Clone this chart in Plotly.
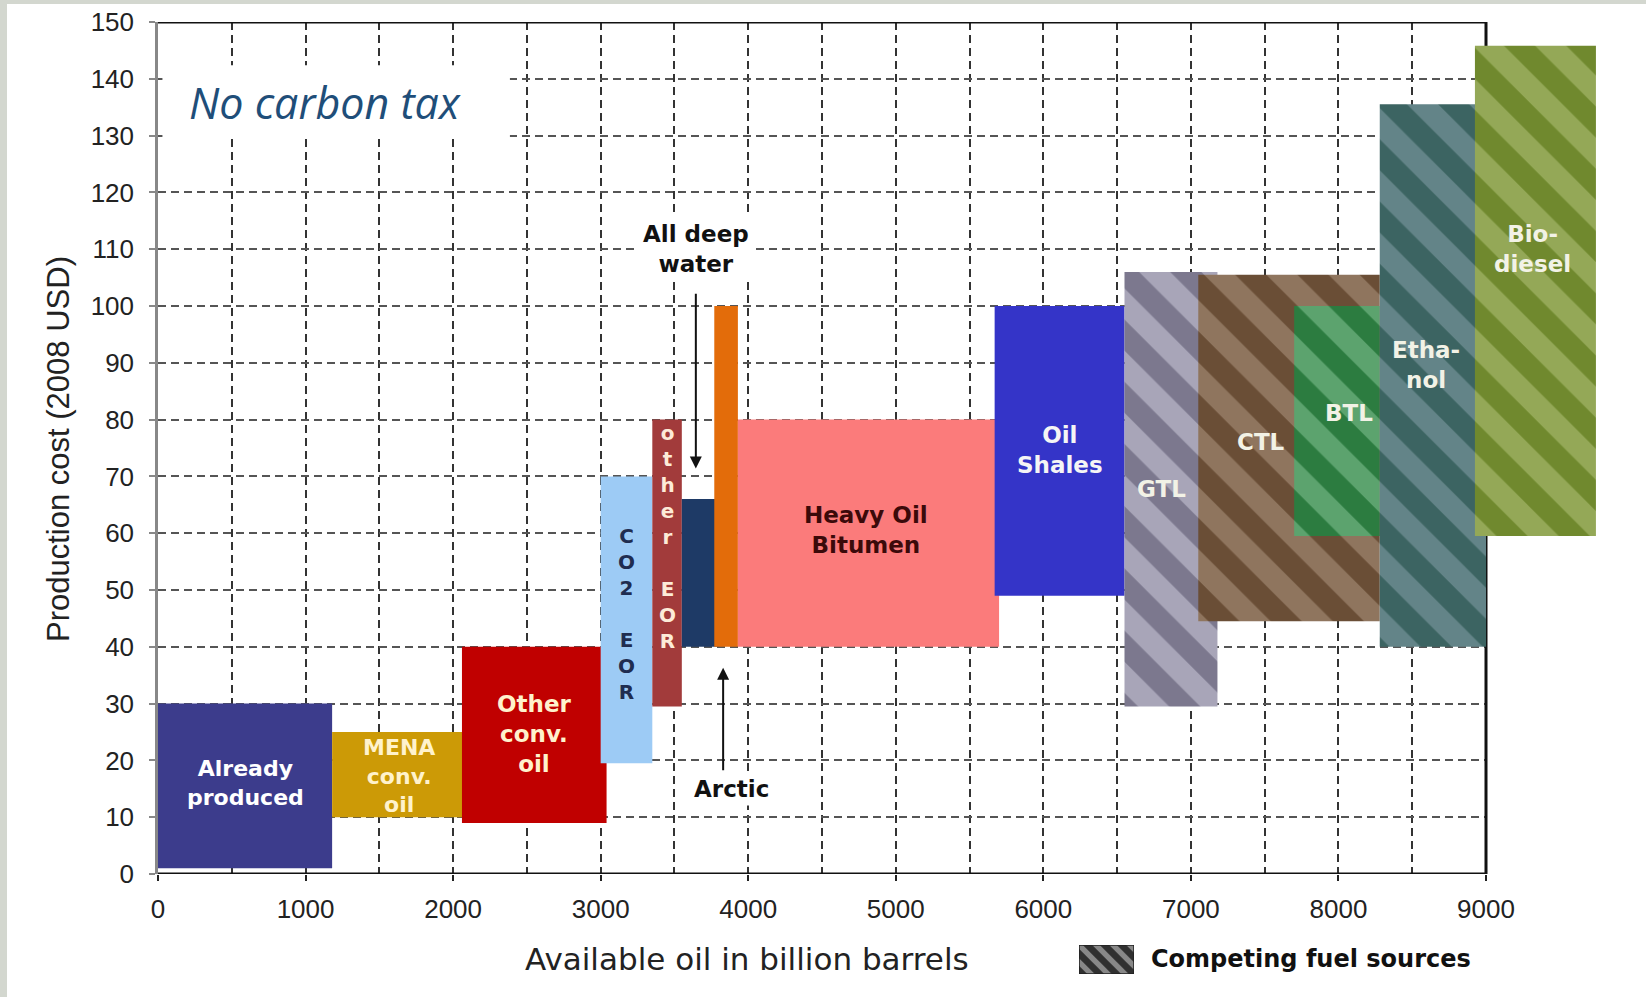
import plotly.graph_objects as go

# ---------------- data ----------------
sources = ["Already produced", "MENA conv. oil", "Other conv. oil", "CO2 EOR",
           "other EOR", "All deep water", "Arctic", "Heavy Oil Bitumen",
           "Oil Shales", "GTL", "CTL", "BTL", "Ethanol", "Biodiesel"]
x_start = [0, 1180, 2060, 3000, 3350, 3550, 3770, 3930, 5670, 6550, 7050, 7700, 8280, 8925]
x_end = [1180, 2080, 3040, 3350, 3550, 3800, 3930, 5700, 6550, 7180, 8280, 8280, 9000, 9745]
cost_low = [1, 10, 9, 19.5, 29.5, 40, 40, 40, 49, 29.5, 44.5, 59.5, 40, 59.5]
cost_high = [30, 25, 40, 70, 80, 66, 100, 80, 100, 106, 105.5, 100, 135.5, 145.8]
competing = [False, False, False, False, False, False, False, False, False,
             True, True, True, True, True]

x_ticks = [0, 1000, 2000, 3000, 4000, 5000, 6000, 7000, 8000, 9000]
x_minor = [500, 1500, 2500, 3500, 4500, 5500, 6500, 7500, 8500]
y_ticks = [0, 10, 20, 30, 40, 50, 60, 70, 80, 90, 100, 110, 120, 130, 140, 150]

# ---------------- styles ----------------
solid_colors = {
    "Already produced": "#3C3C8C", "MENA conv. oil": "#CC9A06",
    "Other conv. oil": "#C00000", "CO2 EOR": "#9DCBF5", "other EOR": "#A23B3B",
    "All deep water": "#1E3A66", "Arctic": "#E36C0A",
    "Heavy Oil Bitumen": "#FB7B7B", "Oil Shales": "#3434C8",
}
pattern_colors = {  # (background, stripes)
    "GTL": ("#7C788E", "#D4D2E2"), "CTL": ("#6A4E36", "#B49C86"),
    "BTL": ("#2C7C40", "#8CCA9C"), "Ethanol": ("#3C6462", "#8AA4AE"),
    "Biodiesel": ("#70892E", "#B8C880"),
}
# label text, x, y, colour, size
labels = {
    "Already produced": ("Already<br>produced", 590, 16, "#FFFFFF", 22),
    "MENA conv. oil": ("MENA<br>conv.<br>oil", 1630, 17.3, "#FFF2CC", 22),
    "Other conv. oil": ("Other<br>conv.<br>oil", 2550, 24.6, "#FFF2CC", 23),
    "CO2 EOR": ("C<br>O<br>2<br> <br>E<br>O<br>R", 3178, 45.7, "#1F2D50", 20),
    "other EOR": ("o<br>t<br>h<br>e<br>r<br> <br>E<br>O<br>R", 3450, 59.4, "#FDEBD8", 20),
    "Heavy Oil Bitumen": ("Heavy Oil<br>Bitumen", 4795, 60.5, "#3B0A0A", 23),
    "Oil Shales": ("Oil<br>Shales", 6110, 74.6, "#F5F5F5", 23),
    "GTL": ("GTL", 6800, 67.7, "#F2F2E6", 23),
    "CTL": ("CTL", 7472, 76, "#F2F2E6", 23),
    "BTL": ("BTL", 8070, 81.2, "#F2F2E6", 23),
    "Ethanol": ("Etha-<br>nol", 8594, 89.7, "#F2F2E6", 23),
    "Biodiesel": ("Bio-<br>diesel", 9313, 110, "#F2F2E6", 23),
}

W, H = 1646, 997
L, T = 158, 22
frame_right, plot_bottom = 1486, 874      # pixel position of x=9000 and y=0
X_FRAME = 9000                            # right edge of the drawn frame
X_MAX = 9800                              # axis extends so the last block fits
paper_w, paper_h = W - L, H - T
plot_right = L + (frame_right - L) * X_MAX / X_FRAME


def px_x(p):
    return (p - L) / paper_w


def px_y(p):
    return (H - p) / paper_h


fig = go.Figure()

for name, x0, x1, lo, hi, comp in zip(sources, x_start, x_end, cost_low, cost_high, competing):
    if comp:
        bg, fg = pattern_colors[name]
        marker = dict(color=bg, line=dict(width=0),
                      pattern=dict(shape="\\", bgcolor=bg, fgcolor=fg, size=44,
                                   solidity=0.5, fgopacity=0.5, fillmode="overlay"))
    else:
        marker = dict(color=solid_colors[name], line=dict(width=0))
    fig.add_trace(go.Bar(
        x=[(x0 + x1) / 2], y=[hi - lo], base=[lo], width=[x1 - x0],
        marker=marker, name=name, showlegend=False,
        xaxis="x", yaxis="y", hoverinfo="name"))

# legend swatch for "Competing fuel sources"
fig.add_trace(go.Bar(
    x=[0], y=[1], width=[1], xaxis="x2", yaxis="y2", showlegend=False,
    marker=dict(color="#303030", line=dict(color="#202020", width=1.5),
                pattern=dict(shape="\\", bgcolor="#303030", fgcolor="#E0E0E0",
                             size=12, solidity=0.45, fillmode="overlay")),
    hoverinfo="skip"))

vgrid = dict(gridcolor="#333333", gridwidth=1.5, griddash="8px,5px")
hgrid = dict(gridcolor="#555555", gridwidth=1.5, griddash="8px,5px")

fig.update_layout(
    width=W, height=H,
    margin=dict(l=L, r=0, t=T, b=0, autoexpand=False),
    paper_bgcolor="white", plot_bgcolor="white",
    barmode="overlay", showlegend=False,
    font=dict(family="Liberation Sans, Arial, sans-serif", color="#222222"),
    xaxis=dict(
        domain=[0, px_x(plot_right)], range=[0, X_MAX], automargin=False,
        tickvals=x_ticks, ticktext=[str(v) for v in x_ticks],
        tickfont=dict(size=26, family="Liberation Sans, Arial", color="#222222"),
        ticks="outside", ticklen=6, tickcolor="#222222", tickwidth=1.5,
        ticklabelstandoff=6,
        showgrid=True, **vgrid,
        minor=dict(tickvals=x_minor, showgrid=True, **vgrid),
        showline=False, zeroline=False,
    ),
    yaxis=dict(
        domain=[px_y(plot_bottom), 1], range=[0, 150], automargin=False,
        tickvals=y_ticks, ticktext=[str(v) for v in y_ticks],
        tickfont=dict(size=26, family="Liberation Sans, Arial", color="#222222"),
        ticks="outside", ticklen=6, tickcolor="#888888", tickwidth=1.5,
        ticklabelstandoff=10,
        showgrid=True, **hgrid,
        showline=True, linecolor="#888888", linewidth=2.5, mirror=False,
        zeroline=False,
    ),
    xaxis2=dict(domain=[px_x(1079), px_x(1134)], range=[-0.5, 0.5], anchor="y2",
                automargin=False, ticks="",
                showgrid=False, zeroline=False, showticklabels=False, showline=False),
    yaxis2=dict(domain=[px_y(974), px_y(945)], range=[0, 1], anchor="x2",
                automargin=False, ticks="",
                showgrid=False, zeroline=False, showticklabels=False, showline=False),
)

shapes = [
    # grey frame of the slide (top and left strips)
    dict(type="rect", xref="paper", yref="paper", x0=px_x(0), x1=px_x(W),
         y0=px_y(4), y1=px_y(0), fillcolor="#D3D7CF", line=dict(width=0), layer="below"),
    dict(type="rect", xref="paper", yref="paper", x0=px_x(0), x1=px_x(7),
         y0=px_y(H), y1=px_y(0), fillcolor="#D3D7CF", line=dict(width=0), layer="below"),
    # hide the grid outside the frame
    dict(type="rect", xref="x", yref="y", x0=X_FRAME, x1=X_MAX, y0=0, y1=150,
         fillcolor="white", line=dict(width=0), layer="between"),
    # white box behind the scenario title
    dict(type="rect", xref="x", yref="y", x0=30, x1=2385, y0=129.4, y1=142.4,
         fillcolor="white", line=dict(width=0), layer="between"),
    # frame: right, bottom, top
    dict(type="line", xref="x", yref="y", x0=X_FRAME, x1=X_FRAME, y0=0, y1=150,
         line=dict(color="#111111", width=3), layer="between"),
    dict(type="line", xref="x", yref="y", x0=0, x1=X_FRAME, y0=0, y1=0,
         line=dict(color="#111111", width=3), layer="above"),
    dict(type="line", xref="x", yref="y", x0=0, x1=X_FRAME, y0=150, y1=150,
         line=dict(color="#111111", width=3), layer="above"),
]
fig.update_layout(shapes=shapes)

ann = []
for name, (txt, lx, ly, col, sz) in labels.items():
    ann.append(dict(x=lx, y=ly, xref="x", yref="y", text=txt, showarrow=False,
                    font=dict(family="DejaVu Sans", size=sz, color=col, weight="bold"),
                    align="center"))

# callouts
ann.append(dict(x=3645, y=110, xref="x", yref="y", text="All deep<br>water", showarrow=False,
                font=dict(family="DejaVu Sans", size=23, color="#111111", weight="bold"),
                bgcolor="white", borderpad=4))
ann.append(dict(x=3645, y=71.4, ax=3645, ay=102.4, xref="x", yref="y", axref="x", ayref="y",
                text="", showarrow=True, arrowhead=2, arrowsize=1.2, arrowwidth=2,
                arrowcolor="#111111"))
ann.append(dict(x=3885, y=14.9, xref="x", yref="y", text="Arctic", showarrow=False,
                font=dict(family="DejaVu Sans", size=23, color="#111111", weight="bold"),
                bgcolor="white", borderpad=3))
ann.append(dict(x=3830, y=36.3, ax=3830, ay=18, xref="x", yref="y", axref="x", ayref="y",
                text="", showarrow=True, arrowhead=2, arrowsize=1.2, arrowwidth=2,
                arrowcolor="#111111"))

# scenario title
ann.append(dict(x=px_x(187), y=px_y(102), xref="paper", yref="paper", xanchor="left",
                yanchor="middle", text="<i>No carbon tax</i>", showarrow=False,
                font=dict(family="Open Sans", size=43, color="#1F4E79")))

# axis titles
ann.append(dict(x=px_x(747), y=px_y(959), xref="paper", yref="paper",
                xanchor="center", yanchor="middle",
                text="Available oil in billion barrels", showarrow=False,
                font=dict(family="DejaVu Sans", size=31, color="#222222")))
ann.append(dict(x=px_x(58), y=px_y(449), xref="paper", yref="paper", textangle=-90,
                xanchor="center", yanchor="middle",
                text="Production cost (2008 USD)", showarrow=False,
                font=dict(family="Liberation Sans, Arial", size=31, color="#222222")))
# legend label
ann.append(dict(x=px_x(1149), y=px_y(959), xref="paper", yref="paper", xanchor="left",
                yanchor="middle",
                text="Competing fuel sources", showarrow=False,
                font=dict(family="DejaVu Sans", size=24, color="#111111", weight="bold")))

fig.update_layout(annotations=ann)

fig.write_html("out.html",
               config={"displayModeBar": False},
               post_script="document.body.style.margin='0px';"
                           "document.body.style.overflow='hidden';")
